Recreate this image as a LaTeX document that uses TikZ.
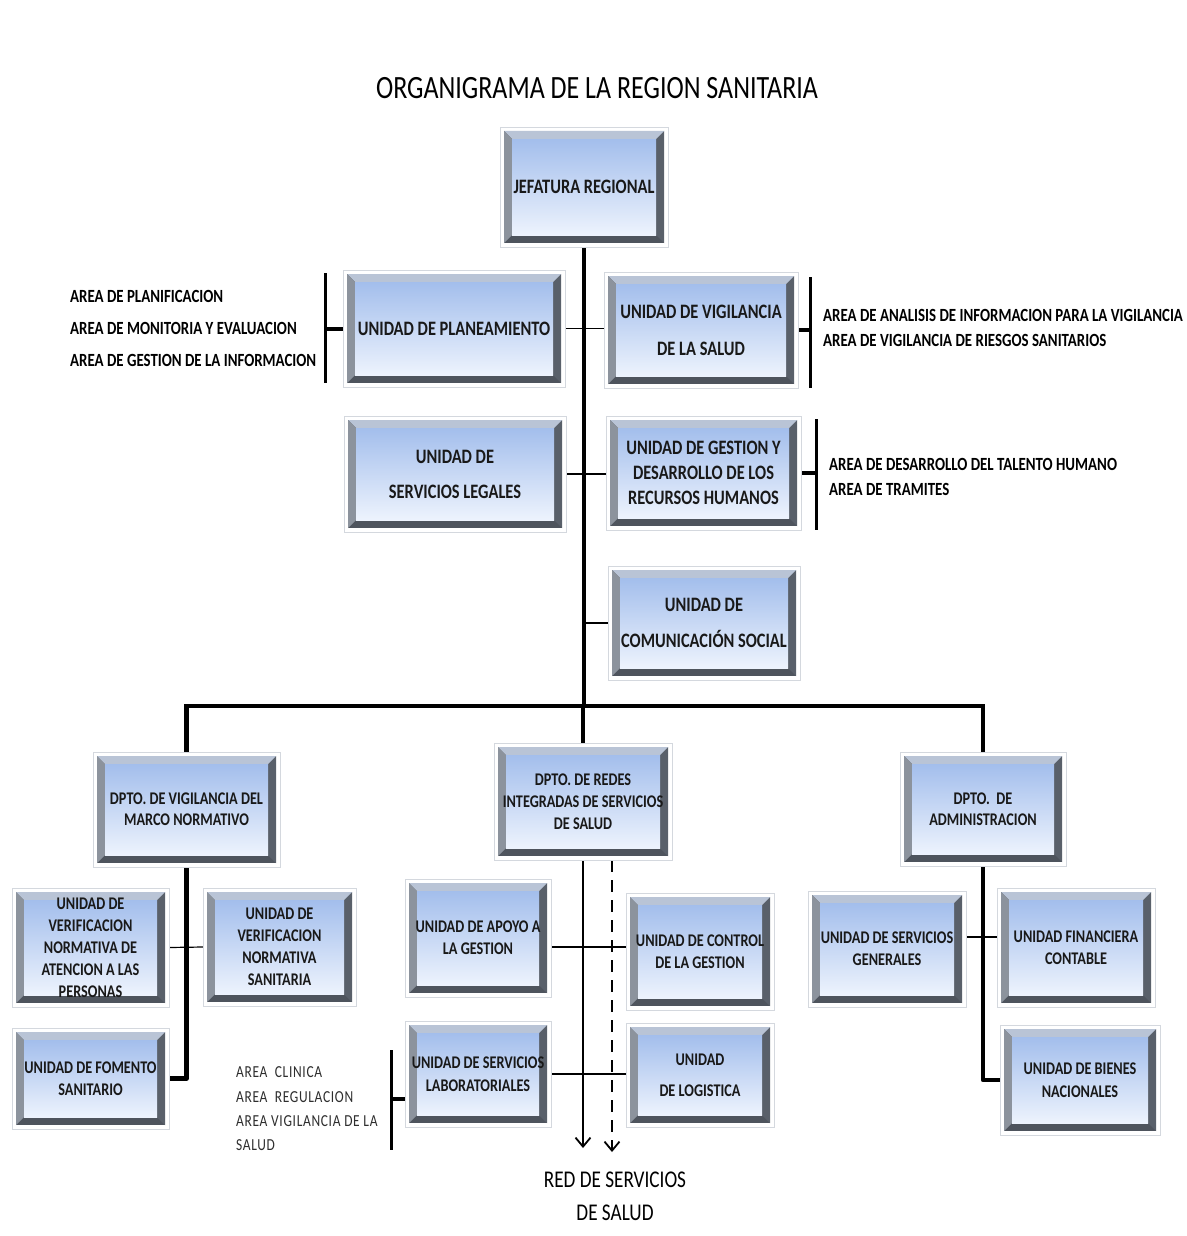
\documentclass[tikz,border=0pt]{standalone}
\usepackage{fontspec}
\setmainfont{Carlito}
\newfontfamily\calf[FakeStretch=0.8]{Carlito}
\newfontfamily\calfsp[FakeStretch=0.8,LetterSpace=4]{Carlito}
\usetikzlibrary{arrows.meta}
\pgfdeclarelayer{bg}
\pgfsetlayers{bg,main}
\definecolor{framegray}{HTML}{D4D8DE}
\definecolor{bevtop}{HTML}{B9C4D6}
\definecolor{bevleft}{HTML}{8C939D}
\definecolor{bevright}{HTML}{59606A}
\definecolor{bevbot}{HTML}{4E545D}
\definecolor{intop}{HTML}{A3BEEC}
\definecolor{inbot}{HTML}{EDF3FD}
\definecolor{labgray}{HTML}{2E2E2E}
\tikzset{
  frame/.style={draw=framegray, line width=0.8pt, fill=white, inner sep=0pt, outer sep=0pt},
  thickln/.style={line width=4.5pt, black},
  brk/.style={line width=3pt, black},
  medln/.style={line width=2pt, black},
  thinln/.style={line width=1.2pt, black},
  lbl/.style={font=\calf\bfseries\fontsize{18.6}{22}\selectfont, inner sep=0pt, anchor=west},
  lablbl/.style={font=\calfsp\fontsize{16.8}{20}\selectfont, text=labgray, inner sep=0pt, anchor=west},
}
\newcommand\ubox[8]{%
  \node[frame, minimum width={(#4-#2)*1pt}, minimum height={(#5-#3)*1pt}] (#1) at ({(#2+#4)/2},{(#3+#5)/2}) {};
  \fill[bevbot] (#2+4,#3+4) rectangle (#4-4,#5-4);
  \fill[bevright] (#4-4,#3+4) -- (#4-4,#5-4) -- (#4-12,#5-12) -- (#4-12,#3+12) -- cycle;
  \fill[bevtop] (#2+4,#3+4) -- (#4-4,#3+4) -- (#4-12,#3+12) -- (#2+12,#3+12) -- cycle;
  \fill[bevleft] (#2+4,#3+4) -- (#2+12,#3+12) -- (#2+12,#5-12) -- (#2+4,#5-4) -- cycle;
  \shade[top color=intop, bottom color=inbot] (#2+12,#3+12) rectangle (#4-12,#5-12);
  \node[font=\calf\bfseries\fontsize{#6}{#7}\selectfont, align=center, inner sep=0pt, text=black!90] (#1-t) at (#1.center) {#8};
}
\begin{document}
\begin{tikzpicture}[x=1pt,y=-1pt]
\useasboundingbox (0,0) rectangle (1186,1236);
\begin{pgfonlayer}{bg}
\fill[white] (0,0) rectangle (1186,1236);
\end{pgfonlayer}

\node[font=\calf\fontsize{32.5}{39}\selectfont, inner sep=0pt] (title) at (597,88) {ORGANIGRAMA DE LA REGION SANITARIA};

% upper boxes
\ubox{jef}{500}{127}{668}{247}{20.5}{24}{JEFATURA REGIONAL}
\ubox{plan}{343}{270}{565}{387}{20.5}{24}{UNIDAD DE PLANEAMIENTO}
\ubox{vig}{604}{272}{798}{388}{20.5}{37}{UNIDAD DE VIGILANCIA\\DE LA SALUD}
\ubox{leg}{344}{416}{566}{532}{20.5}{35}{UNIDAD DE\\SERVICIOS LEGALES}
\ubox{ges}{606}{416}{801}{530}{20.5}{25}{UNIDAD DE GESTION Y\\DESARROLLO DE LOS\\RECURSOS HUMANOS}
\ubox{com}{608}{566}{800}{680}{20.5}{36}{UNIDAD DE\\COMUNICACIÓN SOCIAL}

% departments
\ubox{dvm}{93}{752}{280}{867}{17.8}{21}{DPTO. DE VIGILANCIA DEL\\MARCO NORMATIVO}
\ubox{dred}{494}{743}{672}{860}{17.8}{22}{DPTO. DE REDES\\INTEGRADAS DE SERVICIOS\\DE SALUD}
\ubox{dadm}{900}{752}{1066}{866}{17.8}{21}{DPTO.\ \ DE\\ADMINISTRACION}

% lower units
\ubox{uvna}{12}{888}{169}{1007}{17.8}{22}{UNIDAD DE\\VERIFICACION\\NORMATIVA DE\\ATENCION A LAS\\PERSONAS}
\ubox{uvns}{203}{888}{356}{1006}{17.8}{22}{UNIDAD DE\\VERIFICACION\\NORMATIVA\\SANITARIA}
\ubox{ufs}{12}{1028}{169}{1129}{17.8}{22}{UNIDAD DE FOMENTO\\SANITARIO}
\ubox{uag}{405}{879}{551}{997}{17.8}{22}{UNIDAD DE APOYO A\\LA GESTION}
\ubox{ucg}{626}{893}{774}{1010}{17.8}{22}{UNIDAD DE CONTROL\\DE LA GESTION}
\ubox{usl}{405}{1021}{551}{1127}{17.8}{23}{UNIDAD DE SERVICIOS\\LABORATORIALES}
\ubox{ulo}{626}{1023}{774}{1127}{17.8}{31}{UNIDAD\\DE LOGISTICA}
\ubox{usg}{808}{891}{966}{1007}{17.8}{22}{UNIDAD DE SERVICIOS\\GENERALES}
\ubox{ufc}{997}{888}{1155}{1007}{17.8}{22}{UNIDAD FINANCIERA\\CONTABLE}
\ubox{ubn}{1000}{1025}{1160}{1135}{17.8}{23}{UNIDAD DE BIENES\\NACIONALES}

% helper coordinates
\coordinate (barY) at (0,706);
\coordinate (pbr) at (325,0);
\coordinate (vbr) at (810,0);
\coordinate (gbr) at (816,0);
\coordinate (lbr) at (391,0);
\coordinate (labtick) at (0,1099);
\coordinate (row1) at (0,947);
\coordinate (row3) at (0,937);
\coordinate (dash) at (612,0);
\coordinate (arrA) at (583,1148);
\coordinate (arrB) at (612,1152);

\begin{pgfonlayer}{bg}
  % trunk and bar
  \draw[thickln] (jef.south) -- (jef.south |- barY);
  \draw[thickln, line cap=rect] (dvm.north) -- (dvm.north |- barY) -- (dadm.north |- barY) -- (dadm.north);
  \draw[thickln] (dred.north) -- (dred.north |- barY);
  % side links
  \draw[thinln] (plan.east) -- (plan.east -| vig.west);
  \draw[medln] (leg.east) -- (leg.east -| ges.west);
  \draw[medln] (com.west) -- (com.west -| jef.south);
  % brackets
  \draw[brk] (pbr |- 0,273) -- (pbr |- 0,383);
  \draw[line width=4pt] (plan.west) -- (plan.west -| pbr);
  \draw[brk] (vbr |- 0,277) -- (vbr |- 0,388);
  \draw[line width=4pt] (vig.east) -- (vig.east -| vbr);
  \draw[brk] (gbr |- 0,419) -- (gbr |- 0,530);
  \draw[line width=4pt] (ges.east) -- (ges.east -| gbr);
  \draw[brk] (lbr |- 0,1050) -- (lbr |- 0,1150);
  \draw[line width=4pt] (usl.west |- labtick) -- (lbr |- labtick);
  % DPTO vigilancia
  \draw[thickln, line join=round] (dvm.south) -- (dvm.south |- ufs.east) -- (ufs.east);
  \draw[thinln] (uvna.east) -- (uvns.west);
  % DPTO redes
  \draw[line width=1.8pt, -{Straight Barb[length=9pt,width=15pt,line width=1.8pt]}] (dred.south) -- (arrA);
  \draw[line width=1.8pt, dash pattern=on 12pt off 8pt] (dred.south -| dash) -- ([yshift=6pt]arrB);
  \draw[line width=1.8pt, -{Straight Barb[length=9pt,width=15pt,line width=1.8pt]}] ([yshift=11pt]arrB) -- (arrB);
  \draw[thinln] (uag.east |- row1) -- (ucg.west |- row1);
  \draw[thinln] (usl.east) -- (usl.east -| ulo.west);
  % DPTO administracion
  \draw[thickln, line join=round] (dadm.south) -- (dadm.south |- ubn.west) -- (ubn.west);
  \draw[thinln] (usg.east |- row3) -- (ufc.west |- row3);
\end{pgfonlayer}

% area labels
\node[lbl] (a1) at (70,296) {AREA DE PLANIFICACION};
\node[lbl] (a2) at (70,328) {AREA DE MONITORIA Y EVALUACION};
\node[lbl] (a3) at (70,360) {AREA DE GESTION DE LA INFORMACION};
\node[lbl] (b1) at (823,315) {AREA DE ANALISIS DE INFORMACION PARA LA VIGILANCIA};
\node[lbl] (b2) at (823,340) {AREA DE VIGILANCIA DE RIESGOS SANITARIOS};
\node[lbl] (c1) at (829,464) {AREA DE DESARROLLO DEL TALENTO HUMANO};
\node[lbl] (c2) at (829,489) {AREA DE TRAMITES};
\node[lablbl] (d1) at (236,1072) {AREA\ \ CLINICA};
\node[lablbl] (d2) at (236,1097) {AREA\ \ REGULACION};
\node[lablbl] (d3) at (236,1121) {AREA VIGILANCIA DE LA};
\node[lablbl] (d4) at (236,1145) {SALUD};

\node[font=\calf\fontsize{24}{33}\selectfont, align=center, inner sep=0pt] (red) at (615,1196) {RED DE SERVICIOS\\DE SALUD};
\end{tikzpicture}
\end{document}
